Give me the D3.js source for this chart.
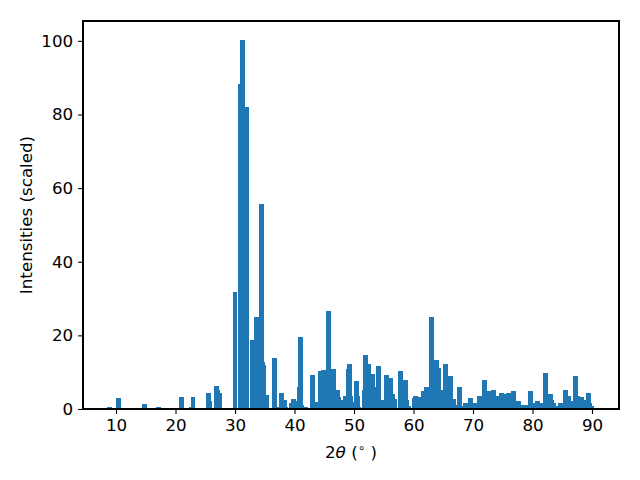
<!DOCTYPE html>
<html>
<head>
<meta charset="utf-8">
<script src="https://cdn.jsdelivr.net/npm/d3@7"></script>
<style>
  html, body { margin: 0; padding: 0; background: #fff; }
  svg text { font-family: "DejaVu Sans", sans-serif; }
</style>
</head>
<body>
<svg id="chart" width="640" height="480"></svg>
<script>
// 2-theta positions (degrees)
const twoTheta = [
  8.9, 10.4, 14.8, 17.1, 21.0, 22.65, 22.95, 25.55, 25.73, 26.87, 27.1, 27.41,
  30.0, 30.89, 31.25, 31.93, 32.9, 33.6, 34.44, 34.62, 34.79, 35.3,
  36.64, 37.2, 37.78, 38.4, 38.5, 39.46, 39.83, 40.0, 40.8, 40.98, 41.18, 41.93,
  43.03, 43.8, 44.34, 44.87, 45.71, 46.52, 47.19, 47.4, 47.97, 48.54, 49.04, 49.23,
  49.41, 49.75, 50.42, 50.6, 50.8, 51.73, 51.9, 52.44, 53.11, 53.28, 54.1, 54.77,
  55.46, 56.13, 56.47, 56.8, 57.82, 58.66, 58.83, 59.16, 60.13, 60.3, 60.86, 61.53,
  61.7, 62.2, 63.03, 63.83, 64.2, 64.54, 65.38, 66.18, 66.72, 66.89, 67.73, 68.0,
  68.74, 69.58, 70.39, 70.94, 71.1, 71.93, 72.74, 73.45, 74.26, 74.79, 75.13, 75.97,
  76.8, 76.99, 77.66, 78.33, 78.67, 78.9, 79.66, 80.1, 80.84, 81.05, 81.36, 82.18,
  83.0, 83.2, 83.53, 83.87, 84.71, 85.55, 86.03, 86.39, 87.22, 87.56, 88.24, 88.57,
  89.4, 89.58, 89.92
];
// scaled intensities
const intensity = [
  0.45, 3.0, 1.4, 0.45, 3.3, 0.45, 3.2, 4.4, 2.3, 6.3, 5.2, 4.4,
  31.8, 88.2, 100.2, 82.0, 18.7, 25.0, 55.6, 12.8, 12.0, 3.8,
  13.9, 0.5, 4.3, 2.4, 0.5, 1.6, 2.7, 2.2, 6.0, 19.6, 1.1, 0.45,
  9.2, 1.9, 10.3, 10.6, 26.6, 10.9, 5.2, 3.3, 2.4, 3.5, 10.9, 12.2,
  3.5, 1.9, 7.6, 3.5, 0.45, 5.2, 14.7, 12.2, 9.5, 5.9, 11.7, 2.4,
  9.2, 8.4, 4.1, 2.7, 10.3, 7.9, 2.4, 0.8, 3.0, 3.5, 3.3, 3.0,
  4.9, 6.0, 25.0, 13.3, 11.1, 5.2, 12.2, 9.0, 2.7, 1.1, 6.0, 0.8,
  1.6, 3.0, 1.6, 1.1, 3.5, 7.9, 4.9, 5.2, 3.5, 4.3, 4.1, 4.3,
  4.9, 1.6, 2.2, 1.1, 0.8, 1.1, 4.9, 1.6, 2.2, 0.8, 1.6, 9.8,
  4.1, 2.4, 1.6, 0.8, 1.6, 5.2, 3.5, 2.2, 9.0, 3.5, 3.3, 2.4,
  4.3, 1.6, 0.8
];
const xTicks = [10, 20, 30, 40, 50, 60, 70, 80, 90];
const yTicks = [0, 20, 40, 60, 80, 100];
const barWidth = 0.8;

const svg = d3.select("#chart");
const margin = { left: 83, right: 21, top: 21, bottom: 71 };
const W = 640, H = 480;
const x = d3.scaleLinear().domain([4.45, 94.54]).range([margin.left, W - margin.right]);
const y = d3.scaleLinear().domain([0, 105.4]).range([H - margin.bottom, margin.top]);

const data = twoTheta.map((t, i) => ({ t, v: intensity[i] }));

svg.append("g")
  .attr("shape-rendering", "crispEdges")
  .selectAll("rect").data(data).join("rect")
  .attr("x", d => x(d.t - barWidth / 2))
  .attr("width", d => x(d.t + barWidth / 2) - x(d.t - barWidth / 2))
  .attr("y", d => y(d.v))
  .attr("height", d => y(0) - y(d.v))
  .attr("fill", "#1f77b4");

const fs = "16.7px";
const xAxis = svg.append("g")
  .attr("transform", `translate(0,${H - margin.bottom})`)
  .call(d3.axisBottom(x).tickValues(xTicks).tickSize(4.9).tickPadding(4.9).tickFormat(d3.format("d")));
const yAxis = svg.append("g")
  .attr("transform", `translate(${margin.left},0)`)
  .call(d3.axisLeft(y).tickValues(yTicks).tickSize(4.9).tickPadding(4.9).tickFormat(d3.format("d")));
[xAxis, yAxis].forEach(g => {
  g.select(".domain").remove();
  g.selectAll(".tick line").attr("stroke", "#000").attr("stroke-width", 1.1);
  g.selectAll(".tick text").attr("fill", "#000").style("font-size", fs).style("font-family", "DejaVu Sans");
});

// frame
svg.append("rect")
  .attr("x", margin.left).attr("y", margin.top)
  .attr("width", W - margin.left - margin.right)
  .attr("height", H - margin.top - margin.bottom)
  .attr("fill", "none").attr("stroke", "#000").attr("stroke-width", 1.1)
  .attr("shape-rendering", "crispEdges");

// x label
const xl = svg.append("text")
  .attr("x", (margin.left + W - margin.right) / 2)
  .attr("y", 458)
  .attr("text-anchor", "middle")
  .style("font-size", fs);
xl.append("tspan").text("2");
xl.append("tspan").style("font-style", "italic").text("θ");
xl.append("tspan").text(" (");
xl.append("tspan").attr("dy", -6).style("font-size", "12px").text("∘");
xl.append("tspan").attr("dy", 6).text(" )");

// y label
svg.append("text")
  .attr("transform", `translate(32,${(margin.top + H - margin.bottom) / 2}) rotate(-90)`)
  .attr("text-anchor", "middle")
  .style("font-size", fs)
  .text("Intensities (scaled)");
</script>
</body>
</html>
